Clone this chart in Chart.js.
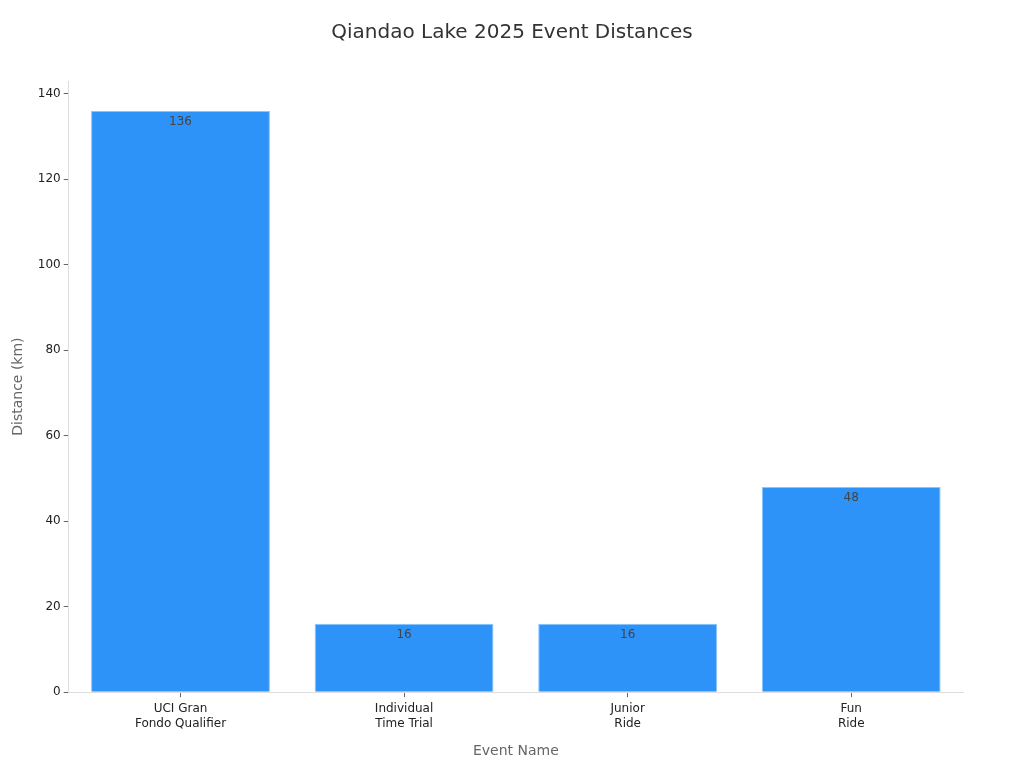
<!DOCTYPE html>
<html>
<head>
<meta charset="utf-8">
<script src="https://cdn.jsdelivr.net/npm/chart.js@4"></script>
<style>
  html, body { margin: 0; padding: 0; background: #fff; }
  #wrap { width: 1024px; height: 768px; }
</style>
</head>
<body>
<div id="wrap"><canvas id="chart"></canvas></div>
<script>
const chartTitle = 'Qiandao Lake 2025 Event Distances';
const events = [
    ['UCI Gran', 'Fondo Qualifier'],
    ['Individual', 'Time Trial'],
    ['Junior', 'Ride'],
    ['Fun', 'Ride']
];
const distances = [136, 16, 16, 48];
const yTicks = [0, 20, 40, 60, 80, 100, 120, 140];

Chart.defaults.font.family = '"DejaVu Sans", Verdana, sans-serif';

// title centred on the whole canvas, value labels inside bar tops
const extras = {
    id: 'extras',
    afterDraw(chart) {
        const ctx = chart.ctx;
        ctx.save();
        ctx.font = '20px "DejaVu Sans", sans-serif';
        ctx.fillStyle = '#333';
        ctx.textAlign = 'center';
        ctx.textBaseline = 'middle';
        ctx.fillText(chartTitle, chart.width / 2, 33);

        ctx.font = '12px "DejaVu Sans", sans-serif';
        ctx.fillStyle = '#444';
        ctx.textBaseline = 'top';
        chart.getDatasetMeta(0).data.forEach((bar, i) => {
            ctx.fillText(distances[i], bar.x, bar.y + 5);
        });
        ctx.restore();
    }
};

new Chart(document.getElementById('chart').getContext('2d'), {
    type: 'bar',
    data: {
        labels: events,
        datasets: [{
            label: 'Distance (km)',
            data: distances,
            backgroundColor: '#2E93F9',
            borderColor: '#8cc4fb',
            borderWidth: 1,
            categoryPercentage: 1,
            barPercentage: 0.8
        }]
    },
    options: {
        responsive: true,
        maintainAspectRatio: false,
        animation: false,
        layout: { padding: { top: 81, right: 61, left: 6, bottom: 4 } },
        plugins: {
            legend: { display: false },
            tooltip: { enabled: false },
            title: { display: false }
        },
        scales: {
            x: {
                grid: { display: true, offset: false, drawOnChartArea: false, drawTicks: true, tickLength: 5, color: '#666' },
                border: { color: '#ddd' },
                ticks: { color: '#222', font: { size: 12, lineHeight: 1.25 }, padding: 4 },
                title: {
                    display: true,
                    text: 'Event Name',
                    color: '#666',
                    font: { size: 14 },
                    padding: { top: 8 }
                }
            },
            y: {
                min: 0,
                max: 143,
                grid: { display: true, drawOnChartArea: false, drawTicks: true, tickLength: 5, color: '#666' },
                border: { color: '#ddd' },
                ticks: { stepSize: 20, color: '#222', font: { size: 12 }, padding: 3 },
                afterBuildTicks(axis) {
                    axis.ticks = yTicks.map(v => ({ value: v }));
                },
                title: {
                    display: true,
                    text: 'Distance (km)',
                    color: '#666',
                    font: { size: 14 },
                    padding: { bottom: 8 }
                }
            }
        }
    },
    plugins: [extras]
});
</script>
</body>
</html>
